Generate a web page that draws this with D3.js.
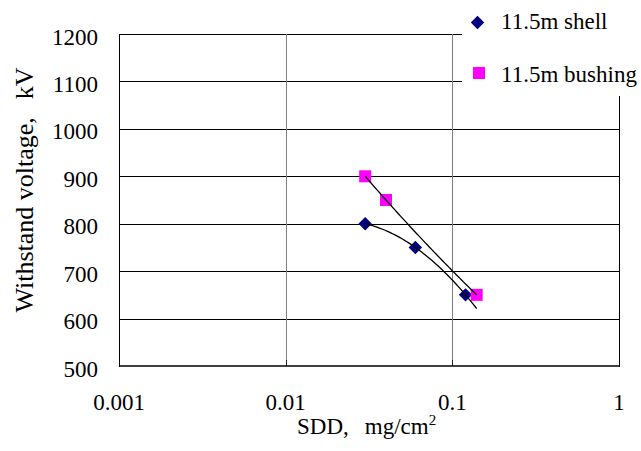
<!DOCTYPE html>
<html>
<head>
<meta charset="utf-8">
<script src="https://cdn.jsdelivr.net/npm/d3@7/dist/d3.min.js"></script>
<style>
  html, body { margin: 0; padding: 0; background: #fff; }
  svg { display: block; }
</style>
</head>
<body>
<svg id="chart" width="641" height="451" font-family="'Liberation Serif', 'Times New Roman', Times, serif"></svg>
<script>
// Withstand voltage vs. SDD for the 11.5 m shell and bushing
const shellSDD = [0.03, 0.06, 0.12];
const shellKV = [800, 750, 650];
const bushingSDD = [0.03, 0.04, 0.14];
const bushingKV = [900, 850, 650];
const trendExtent = [0.03, 0.14];
const xTicks = [0.001, 0.01, 0.1, 1];
const xTickLabels = ["0.001", "0.01", "0.1", "1"];
const yTicks = [500, 600, 700, 800, 900, 1000, 1100, 1200];
const seriesNames = ["11.5m shell", "11.5m bushing"];

const svg = d3.select("#chart");
const plot = { left: 119, right: 619, top: 34, bottom: 366 };

const x = d3.scaleLog().domain([0.001, 1]).range([plot.left, plot.right]);
const y = d3.scaleLinear().domain([500, 1200]).range([plot.bottom, plot.top]);

// horizontal gridlines
svg.append("g")
  .selectAll("line")
  .data(yTicks.filter(v => v > 500))
  .join("line")
  .attr("x1", plot.left).attr("x2", plot.right)
  .attr("y1", d => Math.round(y(d)) + 0.5).attr("y2", d => Math.round(y(d)) + 0.5)
  .attr("stroke", "#000").attr("stroke-width", 1);

// vertical gridlines
svg.append("g")
  .selectAll("line")
  .data(xTicks.slice(1, -1))
  .join("line")
  .attr("x1", d => Math.round(x(d)) + 0.5).attr("x2", d => Math.round(x(d)) + 0.5)
  .attr("y1", plot.top).attr("y2", plot.bottom)
  .attr("stroke", "#808080").attr("stroke-width", 1);

// small inside ticks on the bottom axis
svg.append("g")
  .selectAll("line")
  .data(xTicks.slice(1, -1))
  .join("line")
  .attr("x1", d => Math.round(x(d)) + 0.5).attr("x2", d => Math.round(x(d)) + 0.5)
  .attr("y1", plot.bottom - 6).attr("y2", plot.bottom)
  .attr("stroke", "#222").attr("stroke-width", 1);

// plot frame
svg.append("line")
  .attr("x1", plot.left + 0.5).attr("x2", plot.left + 0.5)
  .attr("y1", plot.top).attr("y2", plot.bottom + 1)
  .attr("stroke", "#000").attr("stroke-width", 1);
svg.append("line")
  .attr("x1", plot.right + 0.5).attr("x2", plot.right + 0.5)
  .attr("y1", plot.top).attr("y2", plot.bottom + 1)
  .attr("stroke", "#000").attr("stroke-width", 1);
svg.append("line")
  .attr("x1", plot.left).attr("x2", plot.right + 1)
  .attr("y1", plot.bottom).attr("y2", plot.bottom)
  .attr("stroke", "#000").attr("stroke-width", 1.6);

// y tick labels
svg.append("g")
  .selectAll("text")
  .data(yTicks)
  .join("text")
  .attr("x", 98)
  .attr("y", d => y(d) + 10.5)
  .attr("text-anchor", "end")
  .attr("font-size", 23)
  .text(d => d);

// x tick labels
svg.append("g")
  .selectAll("text")
  .data(xTicks)
  .join("text")
  .attr("x", d => x(d))
  .attr("y", 410)
  .attr("text-anchor", "middle")
  .attr("font-size", 23)
  .text((d, i) => xTickLabels[i]);

// axis titles
const yt = svg.append("text")
  .attr("transform", "translate(33,190) rotate(-90)")
  .attr("text-anchor", "middle")
  .attr("font-size", 26);
yt.append("tspan").text("Withstand voltage,");
yt.append("tspan").attr("dx", 18).text("kV");

const xt = svg.append("text")
  .attr("x", 297).attr("y", 434)
  .attr("font-size", 23);
xt.append("tspan").text("SDD,");
xt.append("tspan").attr("dx", 16).text("mg/cm");
xt.append("tspan").attr("font-size", 15).attr("dy", -9).text("2");

// least-squares polynomial fit in log10(SDD)
function polyFit(xs, ys, deg) {
  const n = deg + 1;
  const A = Array.from({ length: n }, () => new Array(n + 1).fill(0));
  xs.forEach((xv, k) => {
    const u = Math.log10(xv);
    for (let i = 0; i < n; i++) {
      for (let j = 0; j < n; j++) A[i][j] += Math.pow(u, i + j);
      A[i][n] += ys[k] * Math.pow(u, i);
    }
  });
  for (let c = 0; c < n; c++) {
    let p = c;
    for (let r = c + 1; r < n; r++) if (Math.abs(A[r][c]) > Math.abs(A[p][c])) p = r;
    [A[c], A[p]] = [A[p], A[c]];
    for (let r = 0; r < n; r++) {
      if (r === c) continue;
      const f = A[r][c] / A[c][c];
      for (let k = c; k <= n; k++) A[r][k] -= f * A[c][k];
    }
  }
  const coef = A.map((row, i) => row[n] / row[i]);
  return xv => {
    const u = Math.log10(xv);
    return coef.reduce((s, cf, i) => s + cf * Math.pow(u, i), 0);
  };
}

function trendPoints(xs, ys) {
  const f = polyFit(xs, ys, 2);
  const lo = Math.log10(trendExtent[0]), hi = Math.log10(trendExtent[1]);
  const steps = 60;
  return d3.range(steps + 1).map(i => {
    const xv = Math.pow(10, lo + (hi - lo) * i / steps);
    return [xv, f(xv)];
  });
}

const line = d3.line().x(d => x(d[0])).y(d => y(d[1])).curve(d3.curveLinear);

// markers
const diamond = d3.symbol().type(d3.symbolSquare).size(90);
const square = d3.symbol().type(d3.symbolSquare).size(144);

svg.append("g")
  .selectAll("path")
  .data(shellSDD.map((v, i) => [v, shellKV[i]]))
  .join("path")
  .attr("d", diamond)
  .attr("transform", d => `translate(${x(d[0])},${y(d[1])}) rotate(45)`)
  .attr("fill", "#000080");

svg.append("g")
  .selectAll("path")
  .data(bushingSDD.map((v, i) => [v, bushingKV[i]]))
  .join("path")
  .attr("d", square)
  .attr("transform", d => `translate(${x(d[0])},${y(d[1])})`)
  .attr("fill", "#ff00ff");

// trend curves
svg.append("path")
  .datum(trendPoints(shellSDD, shellKV))
  .attr("d", line)
  .attr("fill", "none").attr("stroke", "#000").attr("stroke-width", 1.3);
svg.append("path")
  .datum(trendPoints(bushingSDD, bushingKV))
  .attr("d", line)
  .attr("fill", "none").attr("stroke", "#000").attr("stroke-width", 1.3);

// legend
const legend = svg.append("g");
legend.append("rect")
  .attr("x", 462).attr("y", 0).attr("width", 179).attr("height", 96)
  .attr("fill", "#fff");
legend.append("path")
  .attr("d", d3.symbol().type(d3.symbolSquare).size(90))
  .attr("transform", "translate(477.5,22.5) rotate(45)")
  .attr("fill", "#000080");
legend.append("path")
  .attr("d", square)
  .attr("transform", "translate(479,73)")
  .attr("fill", "#ff00ff");
legend.append("text").attr("x", 501).attr("y", 29).attr("font-size", 23).text(seriesNames[0]);
legend.append("text").attr("x", 501).attr("y", 81.5).attr("font-size", 23).text(seriesNames[1]);
</script>
</body>
</html>
